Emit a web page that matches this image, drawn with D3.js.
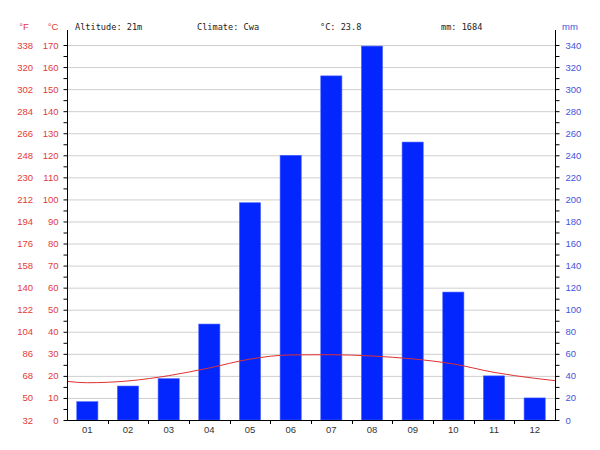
<!DOCTYPE html>
<html>
<head>
<meta charset="utf-8">
<script src="https://cdn.jsdelivr.net/npm/d3@7/dist/d3.min.js"></script>
<style>
  html, body { margin: 0; padding: 0; background: #fff; }
  svg { display: block; }
  .tick text { font-family: "Liberation Sans", Arial, sans-serif; font-size: 9.5px; }
  .hdr { font-family: "DejaVu Sans Mono", monospace; font-size: 8.6px; fill: #222; }
</style>
</head>
<body>
<svg id="chart" width="600" height="450"></svg>
<script>
const months = ["01","02","03","04","05","06","07","08","09","10","11","12"];
const precipitation = [16.6, 30.8, 37.5, 87, 197, 240, 312, 339, 252, 116, 40, 20];
const temperature = [16.9, 17.7, 20.1, 23.6, 27.6, 29.5, 29.6, 29.0, 27.7, 25.4, 21.6, 18.9];
const header = ["Altitude: 21m", "Climate: Cwa", "°C: 23.8", "mm: 1684"];
const cTicks = d3.range(0, 171, 5);
const mmTicks = d3.range(0, 341, 10);

const svg = d3.select("#chart");
const L = 67, R = 555, T = 45, B = 420;
const red = "#e23a3a", blue = "#4455dd";

const x = d3.scaleBand().domain(months).range([L, R]).padding(0);
const yC = d3.scaleLinear().domain([0, 170]).range([B, T]);
const yMM = d3.scaleLinear().domain([0, 340]).range([B, T]);

// gridlines
svg.append("g").selectAll("line")
  .data(d3.range(10, 171, 10))
  .join("line")
  .attr("x1", L).attr("x2", R)
  .attr("y1", d => yC(d) + 0.5).attr("y2", d => yC(d) + 0.5)
  .attr("stroke", "#cfcfcf").attr("stroke-width", 1);

// bars
const bw = x.bandwidth() * 0.52;
svg.append("g").selectAll("rect")
  .data(precipitation)
  .join("rect")
  .attr("x", (d, i) => x(months[i]) + (x.bandwidth() - bw) / 2)
  .attr("width", bw)
  .attr("y", d => yMM(d))
  .attr("height", d => B - yMM(d))
  .attr("fill", "#0326ff")
  .attr("stroke", "#4a63ff").attr("stroke-width", 0.6);

// temperature line (wrapped at both ends, clipped)
svg.append("clipPath").attr("id", "clip")
  .append("rect").attr("x", L).attr("y", T - 20).attr("width", R - L).attr("height", B - T + 20);
const pts = [[x(months[0]) - x.bandwidth() / 2, temperature[11]]]
  .concat(temperature.map((t, i) => [x(months[i]) + x.bandwidth() / 2, t]))
  .concat([[x(months[11]) + x.bandwidth() * 1.5, temperature[0]]]);
const line = d3.line().x(d => d[0]).y(d => yC(d[1])).curve(d3.curveMonotoneX);
svg.append("path")
  .attr("clip-path", "url(#clip)")
  .attr("d", line(pts))
  .attr("fill", "none").attr("stroke", "#e03030").attr("stroke-width", 1);

// left °C axis
const axC = d3.axisLeft(yC).tickValues(cTicks).tickSize(4).tickPadding(5)
  .tickFormat(d => d % 10 === 0 ? d : "");
const gC = svg.append("g").attr("transform", `translate(${L + 0.5},0)`).call(axC);
gC.select(".domain").remove();
gC.selectAll(".tick text").attr("fill", red);
gC.selectAll(".tick line").attr("stroke", "#000");

// left °F labels
const axF = d3.axisLeft(yC).tickValues(d3.range(0, 171, 10)).tickSize(0).tickPadding(0)
  .tickFormat(d => Math.round(d * 1.8 + 32));
const gF = svg.append("g").attr("transform", `translate(33,0)`).call(axF);
gF.select(".domain").remove();
gF.selectAll(".tick text").attr("fill", red);

// right mm axis
const axM = d3.axisRight(yMM).tickValues(mmTicks).tickSize(4).tickPadding(6)
  .tickFormat(d => d % 20 === 0 ? d : "");
const gM = svg.append("g").attr("transform", `translate(${R + 0.5},0)`).call(axM);
gM.select(".domain").remove();
gM.selectAll(".tick text").attr("fill", blue);
gM.selectAll(".tick line").attr("stroke", "#000");

// axis lines
svg.append("line").attr("x1", L + 0.5).attr("x2", L + 0.5).attr("y1", 30).attr("y2", B + 0.5).attr("stroke", "#000");
svg.append("line").attr("x1", R + 0.5).attr("x2", R + 0.5).attr("y1", 30).attr("y2", B + 0.5).attr("stroke", "#000");

// x axis
const axX = d3.axisBottom(x).tickSize(0).tickPadding(6);
const gX = svg.append("g").attr("transform", `translate(0,${B + 0.5})`).call(axX);
gX.select(".domain").remove();
gX.selectAll(".tick text").attr("fill", "#333");
svg.append("line").attr("x1", L).attr("x2", R + 1).attr("y1", B + 0.5).attr("y2", B + 0.5).attr("stroke", "#000");
svg.append("g").selectAll("line")
  .data(months.slice(1))
  .join("line")
  .attr("x1", d => Math.round(x(d)) + 0.5).attr("x2", d => Math.round(x(d)) + 0.5)
  .attr("y1", B).attr("y2", B + 4).attr("stroke", "#000");

// unit labels
svg.append("text").attr("x", 24).attr("y", 30).attr("text-anchor", "middle")
  .attr("fill", red).attr("font-family", "Liberation Sans, Arial, sans-serif").attr("font-size", 9.5).text("°F");
svg.append("text").attr("x", 53).attr("y", 30).attr("text-anchor", "middle")
  .attr("fill", red).attr("font-family", "Liberation Sans, Arial, sans-serif").attr("font-size", 9.5).text("°C");
svg.append("text").attr("x", 570).attr("y", 30).attr("text-anchor", "middle")
  .attr("fill", blue).attr("font-family", "Liberation Sans, Arial, sans-serif").attr("font-size", 9.5).text("mm");

// header
const hx = [75, 197, 320, 441];
svg.append("g").selectAll("text")
  .data(header)
  .join("text")
  .attr("class", "hdr")
  .attr("x", (d, i) => hx[i]).attr("y", 30)
  .text(d => d);
</script>
</body>
</html>
